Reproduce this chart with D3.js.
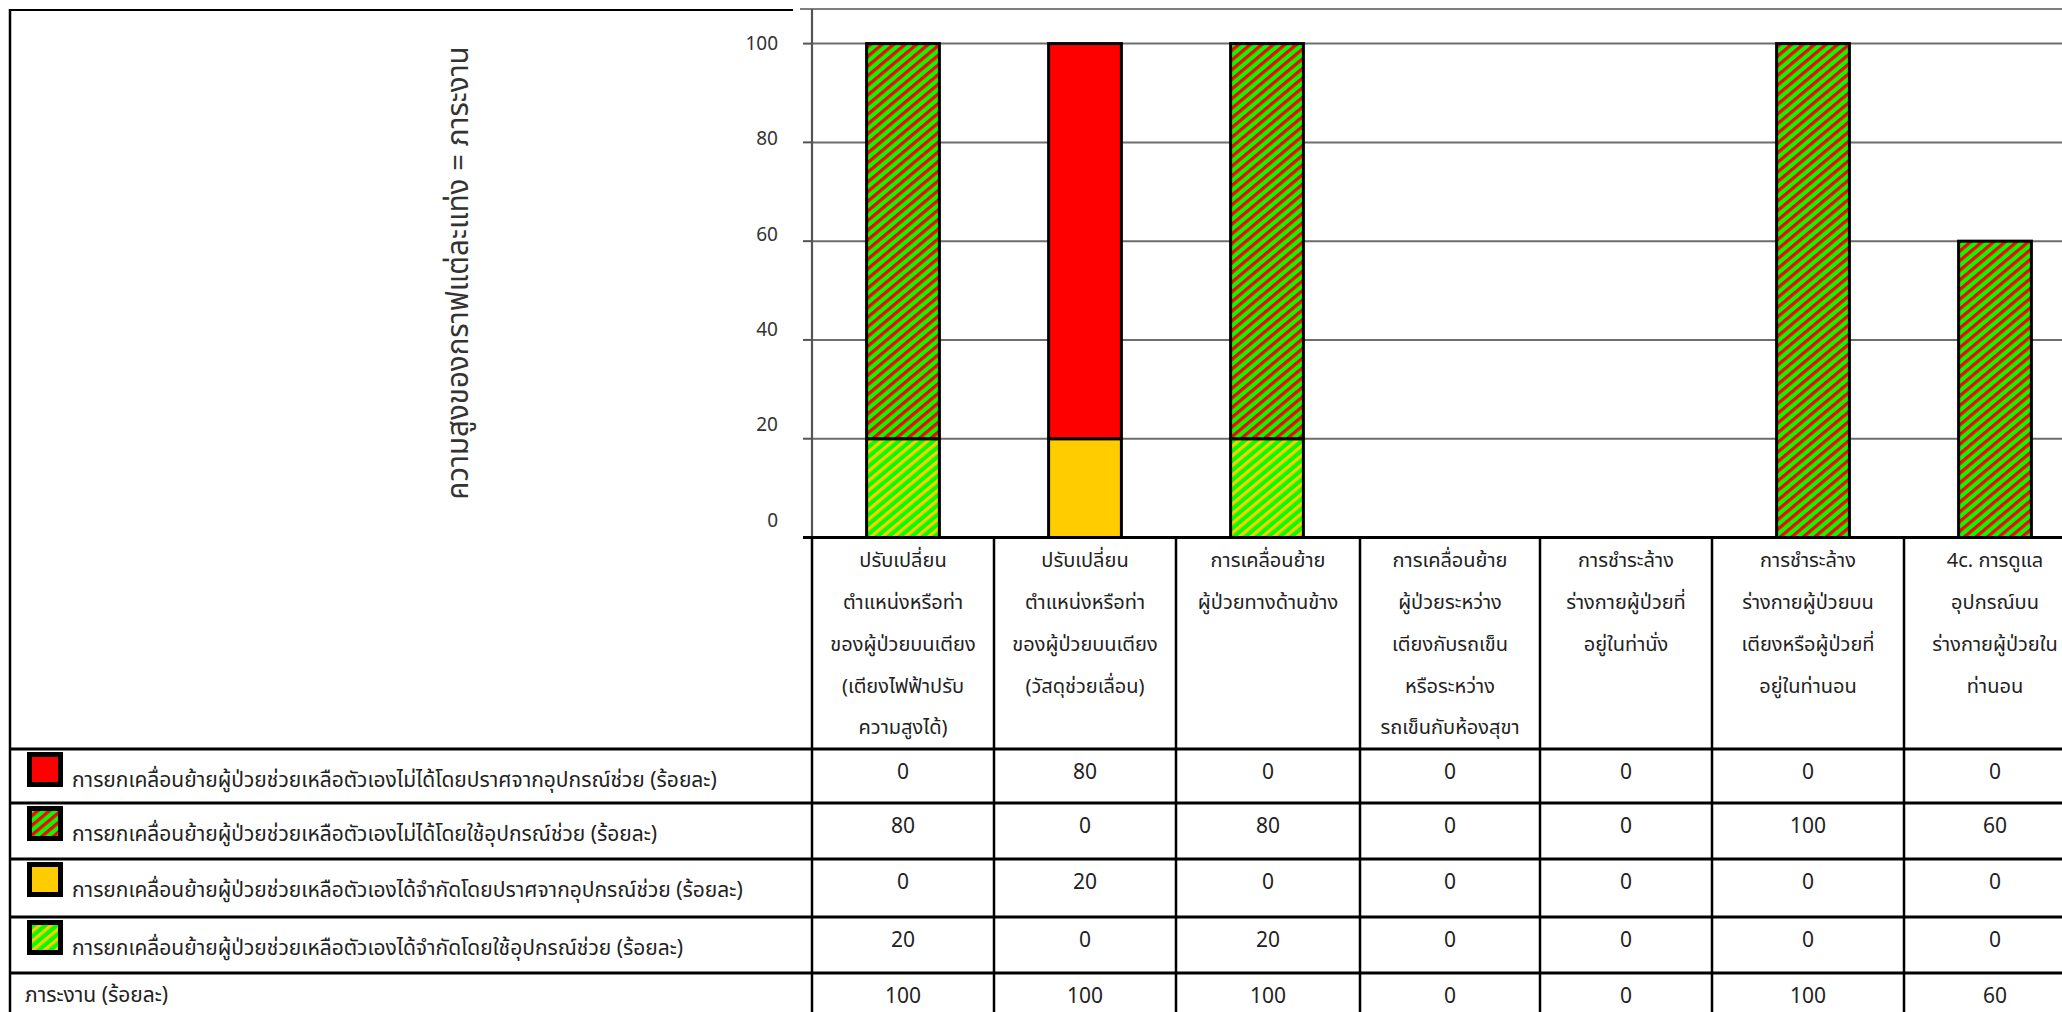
<!DOCTYPE html>
<html>
<head>
<meta charset="utf-8">
<script src="https://cdn.jsdelivr.net/npm/d3@7"></script>
<style>
  html, body { margin: 0; padding: 0; background: #fff; }
  svg { display: block; }
  text { font-family: Tahoma, "Leelawadee UI", "Noto Sans Thai", "Noto Sans", sans-serif; fill: #222; }
</style>
</head>
<body>
<svg id="chart" width="2062" height="1012"></svg>
<script>
// ---- data ----
const categories = [
  ["ปรับเปลี่ยน", "ตำแหน่งหรือท่า", "ของผู้ป่วยบนเตียง", "(เตียงไฟฟ้าปรับ", "ความสูงได้)"],
  ["ปรับเปลี่ยน", "ตำแหน่งหรือท่า", "ของผู้ป่วยบนเตียง", "(วัสดุช่วยเลื่อน)"],
  ["การเคลื่อนย้าย", "ผู้ป่วยทางด้านข้าง"],
  ["การเคลื่อนย้าย", "ผู้ป่วยระหว่าง", "เตียงกับรถเข็น", "หรือระหว่าง", "รถเข็นกับห้องสุขา"],
  ["การชำระล้าง", "ร่างกายผู้ป่วยที่", "อยู่ในท่านั่ง"],
  ["การชำระล้าง", "ร่างกายผู้ป่วยบน", "เตียงหรือผู้ป่วยที่", "อยู่ในท่านอน"],
  ["4c. การดูแล", "อุปกรณ์บน", "ร่างกายผู้ป่วยใน", "ท่านอน"]
];
const seriesNames = [
  "การยกเคลื่อนย้ายผู้ป่วยช่วยเหลือตัวเองไม่ได้โดยปราศจากอุปกรณ์ช่วย (ร้อยละ)",
  "การยกเคลื่อนย้ายผู้ป่วยช่วยเหลือตัวเองไม่ได้โดยใช้อุปกรณ์ช่วย (ร้อยละ)",
  "การยกเคลื่อนย้ายผู้ป่วยช่วยเหลือตัวเองได้จำกัดโดยปราศจากอุปกรณ์ช่วย (ร้อยละ)",
  "การยกเคลื่อนย้ายผู้ป่วยช่วยเหลือตัวเองได้จำกัดโดยใช้อุปกรณ์ช่วย (ร้อยละ)"
];
const unableNoAid    = [0, 80, 0, 0, 0, 0, 0];
const unableWithAid  = [80, 0, 80, 0, 0, 100, 60];
const limitedNoAid   = [0, 20, 0, 0, 0, 0, 0];
const limitedWithAid = [20, 0, 20, 0, 0, 0, 0];
const workload       = [100, 100, 100, 0, 0, 100, 60];
const workloadLabel  = "ภาระงาน (ร้อยละ)";
const yTicks = [0, 20, 40, 60, 80, 100];
const axisTitle = "ความสูงของกราฟแต่ละแท่ง = ภาระงาน";

// ---- layout ----
const W = 2062, H = 1012;
const frameL = 10, frameT = 10;
const plotL = 812, plotR = 2086, plotT = 9;
const y0 = 537.5, y100 = 43.6;
const colEdges = [812, 994, 1176, 1360, 1540, 1712, 1904, 2086];
const rowEdges = [537.5, 749, 803, 859, 917, 973, 1030];

const svg = d3.select("#chart");
const defs = svg.append("defs");

// upward diagonal stripes
function stripes(id, bg, fg) {
  const P = 7.4;
  const p = defs.append("pattern")
    .attr("id", id).attr("patternUnits", "userSpaceOnUse")
    .attr("width", 40).attr("height", P)
    .attr("patternTransform", "rotate(-40)");
  p.append("rect").attr("width", 40).attr("height", P).attr("fill", bg);
  p.append("rect").attr("width", 40).attr("height", P * 0.44).attr("fill", fg);
}
stripes("pat-rg", "#00ff00", "#ff0000");
stripes("pat-yg", "#00ff00", "#ffcc00");

// series in legend order, each with its fill
const series = [
  { name: seriesNames[0], values: unableNoAid,    fill: "#ff0000" },
  { name: seriesNames[1], values: unableWithAid,  fill: "url(#pat-rg)" },
  { name: seriesNames[2], values: limitedNoAid,   fill: "#ffcc00" },
  { name: seriesNames[3], values: limitedWithAid, fill: "url(#pat-yg)" }
];

const x = d3.scaleBand()
  .domain(d3.range(categories.length))
  .range([plotL, plotR])
  .paddingInner(0.6).paddingOuter(0.3);
const y = d3.scaleLinear().domain([0, 100]).range([y0, y100]);
// tick labels sit on a slightly compressed column
const yLabel = d3.scaleLinear().domain([0, 100]).range([520, 43]);

// outer frame
svg.append("line").attr("x1", frameL).attr("x2", 793).attr("y1", frameT).attr("y2", frameT)
  .attr("stroke", "#000").attr("stroke-width", 2);
svg.append("line").attr("x1", frameL).attr("x2", frameL).attr("y1", frameT - 1).attr("y2", H)
  .attr("stroke", "#000").attr("stroke-width", 2.5);
svg.append("line").attr("x1", 800).attr("x2", W).attr("y1", plotT).attr("y2", plotT)
  .attr("stroke", "#000").attr("stroke-width", 1.2);

// gridlines
svg.append("g").selectAll("line").data(yTicks.filter(d => d > 0)).join("line")
  .attr("x1", plotL).attr("x2", plotR)
  .attr("y1", d => y(d)).attr("y2", d => y(d))
  .attr("stroke", "#6e6e6e").attr("stroke-width", 2);

// y axis line + ticks
svg.append("line").attr("x1", plotL).attr("x2", plotL).attr("y1", plotT).attr("y2", y0)
  .attr("stroke", "#555").attr("stroke-width", 2.2);
svg.append("g").selectAll("line").data(yTicks).join("line")
  .attr("x1", 803).attr("x2", plotL)
  .attr("y1", d => y(d)).attr("y2", d => y(d))
  .attr("stroke", d => d === 0 ? "#000" : "#555").attr("stroke-width", 2);
svg.append("g").selectAll("text").data(yTicks).join("text")
  .attr("x", 778).attr("y", d => yLabel(d))
  .attr("dy", "0.36em").attr("text-anchor", "end")
  .attr("font-size", 19).style("fill", "#333")
  .text(d => d);

// axis title
svg.append("text")
  .attr("transform", "translate(458,273) rotate(-90)")
  .attr("text-anchor", "middle").attr("dy", "0.35em")
  .attr("font-size", 29.5).style("fill", "#333")
  .text(axisTitle);

// stacked bars (bottom-up: reverse legend order)
const stackOrder = series.slice().reverse();
const barG = svg.append("g");
categories.forEach((c, i) => {
  let base = 0;
  stackOrder.forEach(s => {
    const v = s.values[i];
    if (v > 0) {
      barG.append("rect")
        .attr("x", x(i)).attr("width", x.bandwidth())
        .attr("y", y(base + v)).attr("height", y(base) - y(base + v))
        .attr("fill", s.fill)
        .attr("stroke", "#000").attr("stroke-width", 3);
    }
    base += v;
  });
});

// ---- data table ----
const tbl = svg.append("g");
// x-axis / table top
tbl.append("line").attr("x1", 803).attr("x2", W).attr("y1", y0).attr("y2", y0)
  .attr("stroke", "#000").attr("stroke-width", 3);
// row lines
tbl.selectAll("line.row").data(rowEdges.slice(1, 6)).join("line").attr("class", "row")
  .attr("x1", frameL).attr("x2", W).attr("y1", d => d).attr("y2", d => d)
  .attr("stroke", "#000").attr("stroke-width", 3);
// column lines
tbl.selectAll("line.col").data(colEdges.slice(0, 7)).join("line").attr("class", "col")
  .attr("x1", d => d).attr("x2", d => d).attr("y1", y0).attr("y2", H)
  .attr("stroke", "#000").attr("stroke-width", 2.5);

// header text
categories.forEach((lines, i) => {
  const cx = (colEdges[i] + colEdges[i + 1]) / 2;
  tbl.append("g").selectAll("text").data(lines).join("text")
    .attr("x", cx).attr("y", (d, k) => 560 + k * 41.8)
    .attr("dy", "0.36em").attr("text-anchor", "middle")
    .attr("font-size", 20)
    .text(d => d);
});

// value rows
const rows = series.map(s => s.values).concat([workload]);
rows.forEach((vals, r) => {
  const cy = rowEdges[r + 1] + 22;
  tbl.append("g").selectAll("text").data(vals).join("text")
    .attr("x", (d, i) => (colEdges[i] + colEdges[i + 1]) / 2)
    .attr("y", cy).attr("dy", "0.36em").attr("text-anchor", "middle")
    .attr("font-size", 21)
    .text(d => d);
});

// legend keys and row labels
series.forEach((s, r) => {
  const top = rowEdges[r + 1];
  tbl.append("rect").attr("x", 27).attr("y", top + 3).attr("width", 36).attr("height", 35)
    .attr("fill", "#000");
  tbl.append("rect").attr("x", 32).attr("y", top + 8).attr("width", 26).attr("height", 25)
    .attr("fill", s.fill);
  tbl.append("text").attr("x", 72).attr("y", top + 30).attr("dy", "0.36em")
    .attr("font-size", 21)
    .text(s.name);
});
tbl.append("text").attr("x", 25).attr("y", rowEdges[5] + 21).attr("dy", "0.36em")
  .attr("font-size", 21)
  .text(workloadLabel);
</script>
</body>
</html>
